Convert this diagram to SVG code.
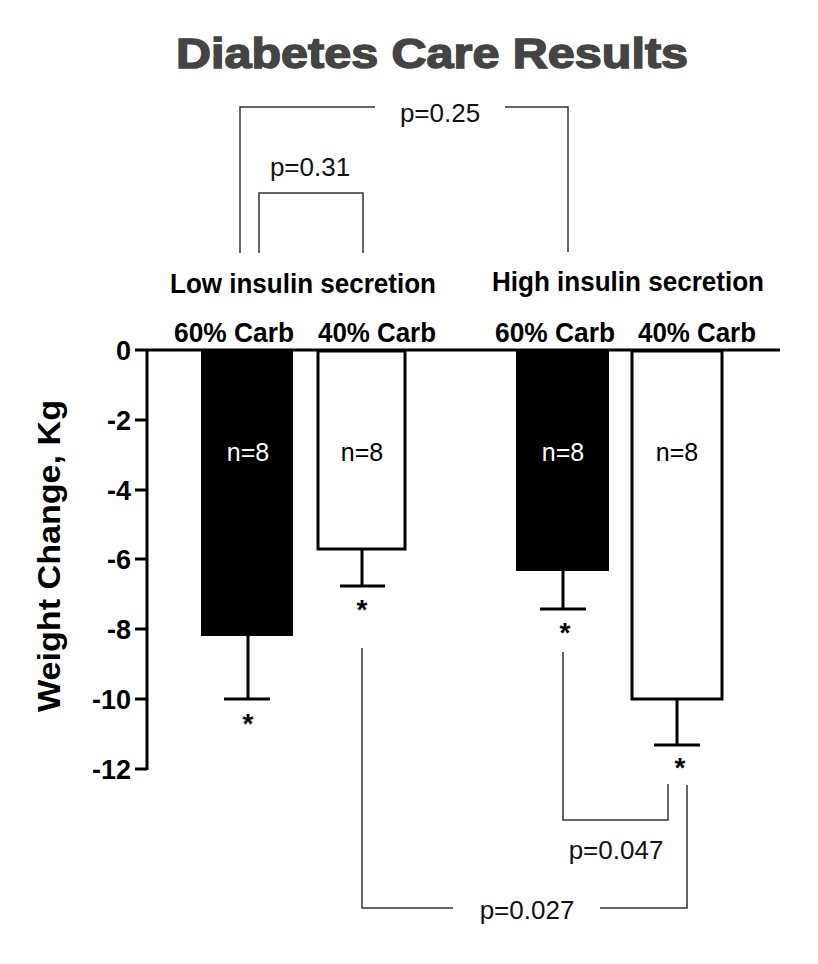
<svg xmlns="http://www.w3.org/2000/svg" width="818" height="964" viewBox="0 0 818 964">
<style>
.ax{stroke:#000;stroke-width:3;fill:none}
.br{stroke:#333;stroke-width:1.5;fill:none}
.bk{fill:#000;stroke:#000;stroke-width:2}
.wh{fill:#fff;stroke:#000;stroke-width:3}
.t{font-family:"Liberation Sans",Arial,sans-serif}
.lab{font-family:"Liberation Sans",Arial,sans-serif;font-weight:bold;font-size:27px;text-anchor:middle}
.tk{font-family:"Liberation Sans",Arial,sans-serif;font-weight:bold;font-size:27px;text-anchor:end}
.p{font-family:"Liberation Sans",Arial,sans-serif;font-size:26px;text-anchor:middle;fill:#111}
.n{font-family:"Liberation Sans",Arial,sans-serif;font-size:25px;text-anchor:middle}
.st{font-family:"Liberation Sans",Arial,sans-serif;font-size:28px;font-weight:bold;text-anchor:middle}
</style>
<rect width="818" height="964" fill="#fff"/>
<text x="432" y="68" class="t" font-size="42" font-weight="900" fill="#444" stroke="#444" stroke-width="1.5" text-anchor="middle" textLength="512" lengthAdjust="spacingAndGlyphs">Diabetes Care Results</text>
<g id="axis">
<path class="ax" d="M147 350V770M135 350H780M135 420H147M135 490H147M135 559H147M135 629H147M135 699H147M135 769H147"/>
<text class="tk" x="131" y="360">0</text>
<text class="tk" x="131" y="430">-2</text>
<text class="tk" x="131" y="500">-4</text>
<text class="tk" x="131" y="569">-6</text>
<text class="tk" x="131" y="639">-8</text>
<text class="tk" x="131" y="709">-10</text>
<text class="tk" x="131" y="779">-12</text>
<text transform="translate(60,556) rotate(-90)" class="t" font-size="31" font-weight="bold" text-anchor="middle" textLength="312" lengthAdjust="spacingAndGlyphs">Weight Change, Kg</text>
</g>
<g id="labels">
<text class="lab" x="303" y="293" textLength="266" lengthAdjust="spacingAndGlyphs">Low insulin secretion</text>
<text class="lab" x="628" y="291" textLength="272" lengthAdjust="spacingAndGlyphs">High insulin secretion</text>
<text class="lab" x="234" y="342" textLength="120" lengthAdjust="spacingAndGlyphs">60% Carb</text>
<text class="lab" x="377" y="342" textLength="118" lengthAdjust="spacingAndGlyphs">40% Carb</text>
<text class="lab" x="555" y="342" textLength="120" lengthAdjust="spacingAndGlyphs">60% Carb</text>
<text class="lab" x="697" y="342" textLength="118" lengthAdjust="spacingAndGlyphs">40% Carb</text>
</g>
<g id="bar1">
<rect class="bk" x="202" y="351" width="90" height="284"/>
<path class="ax" d="M248 635V699M224 699H270"/>
<text class="n" x="248" y="461" fill="#fff">n=8</text>
<text class="st" x="248" y="733">*</text>
</g>
<g id="bar2">
<rect class="wh" x="318" y="351" width="87" height="198"/>
<path class="ax" d="M362 549V586M340 586H385"/>
<text class="n" x="362" y="461">n=8</text>
<text class="st" x="362" y="619">*</text>
</g>
<g id="bar3">
<rect class="bk" x="517" y="351" width="91" height="219"/>
<path class="ax" d="M563 570V609M540 609H586"/>
<text class="n" x="563" y="461" fill="#fff">n=8</text>
<text class="st" x="565" y="642">*</text>
</g>
<g id="bar4">
<rect class="wh" x="632" y="351" width="90" height="348"/>
<path class="ax" d="M677 699V745M654 745H700"/>
<text class="n" x="677" y="461">n=8</text>
<text class="st" x="680" y="777">*</text>
</g>
<g id="connectors">
<path class="br" d="M240 253V107H375M505 107H568V252"/>
<path class="br" d="M259 253V193H363V253"/>
<path class="br" d="M563 652V820H668V784"/>
<path class="br" d="M362 648V908H453M600 908H687V785"/>
</g>
<text class="p" x="440" y="122">p=0.25</text>
<text class="p" x="310" y="176">p=0.31</text>
<text class="p" x="616" y="859">p=0.047</text>
<text class="p" x="527" y="919">p=0.027</text>
</svg>
